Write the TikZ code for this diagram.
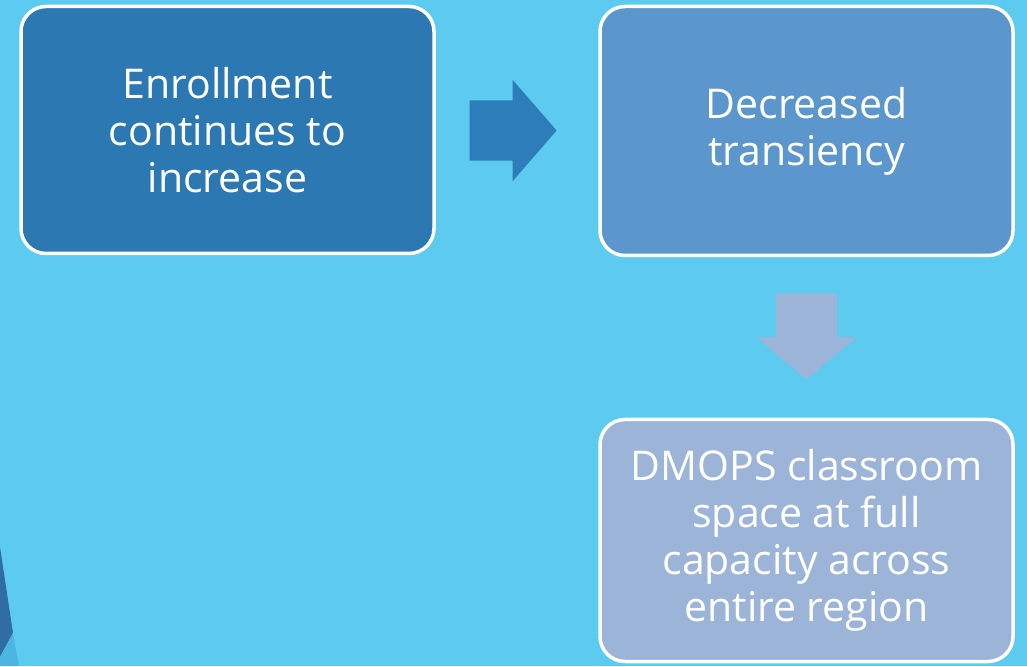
\documentclass[tikz,border=0pt]{standalone}
\usepackage{fontspec}
\setmainfont{Open Sans}
\usepackage{xcolor}
\usetikzlibrary{calc, positioning, shapes.arrows}
\definecolor{slidebg}{HTML}{5DCBEF}
\definecolor{boxone}{HTML}{2C78B2}
\definecolor{boxtwo}{HTML}{5B96CC}
\definecolor{boxthree}{HTML}{9BB4D7}
\definecolor{arrowone}{HTML}{2C7DBA}
\definecolor{arrowtwo}{HTML}{9CB4D8}
\definecolor{decodark}{HTML}{2F6DA3}
\definecolor{decolight}{HTML}{4DB5E2}

\begin{document}
\begin{tikzpicture}
                      [x=1pt, y=1pt,
                       stagebox/.style={draw=white, line width=3.5pt, rounded corners=25pt,
                         minimum width=413pt, text=white, align=center,
                         font=\fontsize{41}{47}\selectfont},
                       blockarrow/.style={single arrow, draw=none, inner xsep=0pt,
                         single arrow head indent=0pt}]
                      % background %
                      \fill[slidebg] (0,0) rectangle (1027,666);
                      \useasboundingbox (0,0) rectangle (1027,666);
                      \fill[decodark] (0,119) -- (13,33) -- (0,9) -- cycle;
                      \fill[decolight] (0,9) -- (13,33) -- (19,0) -- (0,0) -- cycle;

                      % nodes %
                      \node[stagebox, fill=boxone, minimum height=247pt] (enroll) at (227.5,536)
                        {Enrollment\\continues to\\increase};
                      \node[stagebox, fill=boxtwo, minimum height=249pt] (transient) at (806.5,535)
                        {Decreased\\transiency};
                      \node[stagebox, fill=boxthree, minimum height=242pt] (capacity) at (806.5,125.5)
                        {DMOPS classroom\\space at full\\capacity across\\entire region};

                      % arrows %
                      \node[blockarrow, fill=arrowone, minimum height=87pt, inner ysep=30pt,
                        single arrow head extend=20.5pt, single arrow tip angle=98]
                        (step1) at ($(enroll.east)!0.5!(transient.west)+(-17,0)$) {};
                      \node[blockarrow, fill=arrowtwo, minimum height=86pt, inner ysep=30.5pt,
                        single arrow head extend=19.5pt, single arrow tip angle=100, rotate=-90]
                        (step2) at ($(transient.south)!0.5!(capacity.north)+(0,14)$) {};
                    \end{tikzpicture}
\end{document}
